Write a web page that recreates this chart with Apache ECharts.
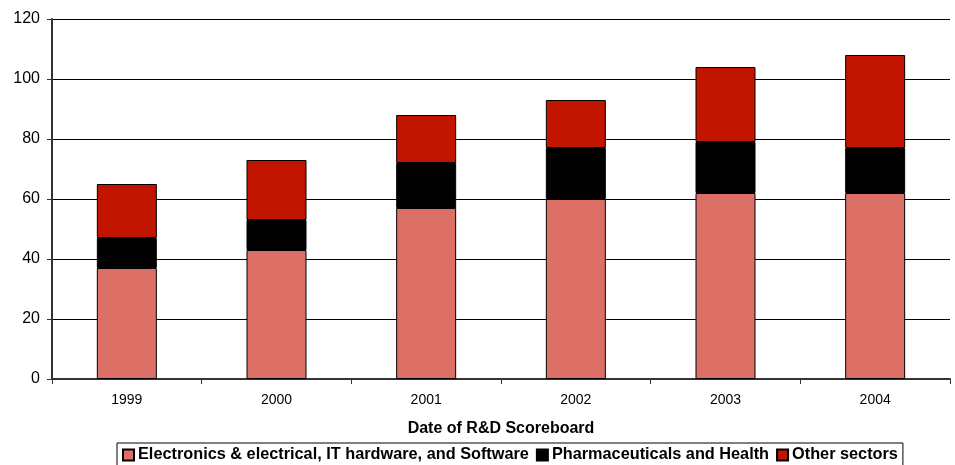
<!DOCTYPE html>
<html>
<head>
<meta charset="utf-8">
<script src="https://cdn.jsdelivr.net/npm/echarts@6/dist/echarts.min.js"></script>
<style>
  html, body { margin: 0; padding: 0; background: #ffffff; }
  #chart { width: 955px; height: 465px; }
</style>
</head>
<body>
<div id="chart"></div>
<script>
// Scoreboard years
var years = ['1999', '2000', '2001', '2002', '2003', '2004'];
// Stacked segment values per sector
var electronics = [37, 43, 57, 60, 62, 62];
var pharma = [10, 10, 15, 17, 17, 15];
var otherSectors = [18, 20, 16, 16, 25, 31];
var seriesNames = ['Electronics & electrical, IT hardware, and Software', 'Pharmaceuticals and Health', 'Other sectors'];

var font = 'Liberation Sans, Arial, sans-serif';
var chart = echarts.init(document.getElementById('chart'), null, { renderer: 'canvas' });

function barSeries(name, data, color) {
  return {
    name: name,
    type: 'bar',
    stack: 'total',
    data: data,
    barWidth: 60,
    itemStyle: { color: color, borderColor: '#000', borderWidth: 1 },
    emphasis: { disabled: true }
  };
}

chart.setOption({
  animation: false,
  grid: { left: 52, right: 5, top: 19, bottom: 86, containLabel: false },
  legend: {
    top: 443,
    left: 117,
    data: seriesNames,
    itemWidth: 11,
    itemHeight: 11,
    itemGap: 7,
    padding: [4, 5, 8, 5],
    borderColor: '#000',
    borderWidth: 1,
    backgroundColor: '#fff',
    icon: 'rect',
    textStyle: { fontFamily: font, fontWeight: 'bold', fontSize: 16.3, color: '#000', padding: [0, 0, 0, -1] }
  },
  xAxis: {
    type: 'category',
    data: years,
    name: 'Date of R&D Scoreboard',
    nameLocation: 'middle',
    nameGap: 42,
    nameTextStyle: { fontFamily: font, fontWeight: 'bold', fontSize: 16, color: '#000' },
    axisLine: { lineStyle: { color: '#333', width: 2 } },
    axisTick: { show: true, length: 5, inside: false, lineStyle: { color: '#333' } },
    axisLabel: { fontFamily: font, fontSize: 14, color: '#000', margin: 14 },
    splitLine: { show: false }
  },
  yAxis: {
    type: 'value',
    min: 0,
    max: 120,
    interval: 20,
    axisLine: { show: true, lineStyle: { color: '#333', width: 2 } },
    axisTick: { show: true, length: 5, lineStyle: { color: '#333' } },
    axisLabel: { fontFamily: font, fontSize: 16, color: '#000', margin: 12 },
    splitLine: { show: true, lineStyle: { color: '#000', width: 1 } }
  },
  series: [
    barSeries(seriesNames[0], electronics, '#dc7066'),
    barSeries(seriesNames[1], pharma, '#000000'),
    barSeries(seriesNames[2], otherSectors, '#c11500')
  ]
});
</script>
</body>
</html>
